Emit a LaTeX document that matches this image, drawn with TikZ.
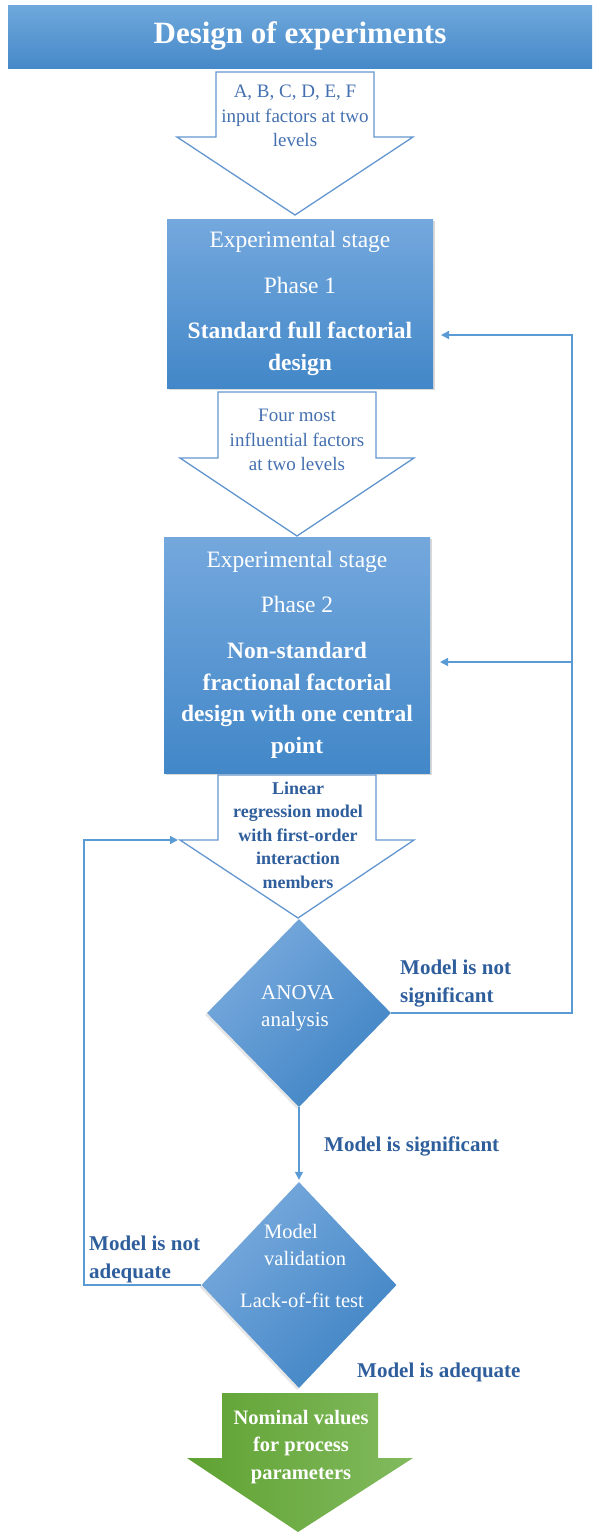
\documentclass[tikz,border=0pt]{standalone}
\usepackage{fontspec}
\setmainfont{Liberation Serif}
\usetikzlibrary{shapes.geometric,arrows.meta,shadows,calc}
\definecolor{tTop}{HTML}{6FA8DC}
\definecolor{tBot}{HTML}{4689C9}
\definecolor{bTop}{HTML}{74A8DD}
\definecolor{bBot}{HTML}{4287C8}
\definecolor{dTop}{HTML}{78AADD}
\definecolor{dMid}{HTML}{589BDA}
\definecolor{dBot}{HTML}{4084C5}
\definecolor{outl}{HTML}{6496CF}
\definecolor{conn}{HTML}{5B9BD5}
\definecolor{lbl}{HTML}{2F5E9C}
\definecolor{atxt}{HTML}{4470B0}
\definecolor{gDark}{HTML}{5FA232}
\definecolor{gLight}{HTML}{82BA5E}
\begin{document}
\begin{tikzpicture}[x=1pt,y=-1pt,
  titlebar/.style={rectangle, top color=tTop, bottom color=tBot, text=white, inner sep=0pt,
    font=\bfseries\fontsize{31}{36}\selectfont},
  bluebox/.style={rectangle, top color=bTop, bottom color=bBot, text=white, align=center, inner sep=0pt,
    drop shadow={opacity=0.3,shadow xshift=2pt,shadow yshift=-2pt},
    font=\fontsize{23.5}{31.5}\selectfont},
  decision/.style={diamond, inner sep=0pt, top color=dTop, middle color=dMid, bottom color=dBot, shading angle=45,
    drop shadow={opacity=0.2,shadow xshift=-2pt,shadow yshift=-2pt}},
  hollowarrow/.style={draw=outl, line width=1.3pt, fill=white, line join=miter},
  arrowtext/.style={text=atxt, align=center, inner sep=0pt, font=\fontsize{19}{24.5}\selectfont},
  arrowbold/.style={text=lbl, align=center, inner sep=0pt, font=\bfseries\fontsize{18}{23.5}\selectfont},
  whitetext/.style={text=white, align=center, inner sep=0pt, font=\fontsize{20.5}{27}\selectfont},
  greentext/.style={text=white, align=center, inner sep=0pt, font=\bfseries\fontsize{20.5}{27.5}\selectfont},
  lbltext/.style={text=lbl, align=left, anchor=west, inner sep=0pt, font=\bfseries\fontsize{21}{28}\selectfont},
  connarrow/.style={draw=conn, line width=1.5pt, -{Triangle[length=8pt,width=8pt]}},
  connline/.style={draw=conn, line width=1.5pt}
]
\useasboundingbox (0,0) rectangle (592,1532);

% title
\node[titlebar, minimum width=584pt, minimum height=63pt] (title) at (300,36.5) {Design of experiments};

% arrow 1 (hollow)
\path[hollowarrow] (216,72) -- (374,72) -- (374,137) -- (413,137) -- (295,215) -- (177,137) -- (216,137) -- cycle;
\node[arrowtext] (a1txt) at (295,116) {A, B, C, D, E, F\\input factors at two\\levels};

% box 1
\node[bluebox, minimum width=266pt, minimum height=169pt] (box1) at (300,303.5)
  {Experimental stage\\[14pt] Phase 1\\[14pt] \textbf{Standard full factorial}\\ \textbf{design}};

% arrow 2
\path[hollowarrow] (218,392) -- (376,392) -- (376,458) -- (414,458) -- (297,536) -- (180,458) -- (218,458) -- cycle;
\node[arrowtext] (a2txt) at (297,440) {Four most\\influential factors\\at two levels};

% box 2
\node[bluebox, minimum width=266pt, minimum height=236pt] (box2) at (297,655)
  {Experimental stage\\[13pt] Phase 2\\[15pt] \textbf{Non-standard}\\ \textbf{fractional factorial}\\ \textbf{design with one central}\\ \textbf{point}};

% arrow 3
\path[hollowarrow] (218,775) -- (376,775) -- (376,840) -- (414,840) -- (298,918) -- (180,840) -- (218,840) -- cycle;
\coordinate (a3w) at (178,840);
\node[arrowbold] (a3txt) at (298,835) {Linear\\regression model\\with first-order\\interaction\\members};

% ANOVA diamond
\node[decision, minimum width=184pt, minimum height=188pt] (anova) at (299,1013) {};
\node[whitetext, align=left, anchor=west, font=\fontsize{21}{27}\selectfont] (anovatxt) at (261,1008) {ANOVA\\analysis};

% validation diamond
\node[decision, minimum width=195pt, minimum height=206pt] (valid) at (299,1285) {};
\node[whitetext, align=left, anchor=west] (vtxt1) at (264,1245) {Model\\validation};
\node[whitetext] (vtxt2) at (302,1300) {Lack-of-fit test};

% green arrow
\shade[left color=gDark, right color=gLight] (222,1393) -- (378,1393) -- (378,1458) -- (413,1458) -- (298,1532) -- (187,1458) -- (222,1458) -- cycle;
\node[greentext] (gtxt) at (301,1447) {Nominal values\\for process\\parameters};

% helper coordinates
\coordinate (fbx) at (572,0);
\coordinate (lbx) at (84,0);
\coordinate (b1in) at (441,335);
\coordinate (b2in) at (440,662);

% connectors
\draw[connarrow] (anova.east) -- (anova.east -| fbx) -- (fbx |- b1in) -- (b1in);
\draw[connarrow] (fbx |- b2in) -- (b2in);
\draw[connarrow] (anova.south) -- ([yshift=2pt]valid.north);
\draw[connarrow] (valid.west) -- (valid.west -| lbx) -- (lbx |- a3w) -- (a3w);

% labels
\node[lbltext] (lns) at (400,984) {Model is not\\significant};
\node[lbltext] (ls) at (324,1146) {Model is significant};
\node[lbltext] (lna) at (89,1259) {Model is not\\adequate};
\node[lbltext] (la) at (357,1372) {Model is adequate};
\end{tikzpicture}
\end{document}
